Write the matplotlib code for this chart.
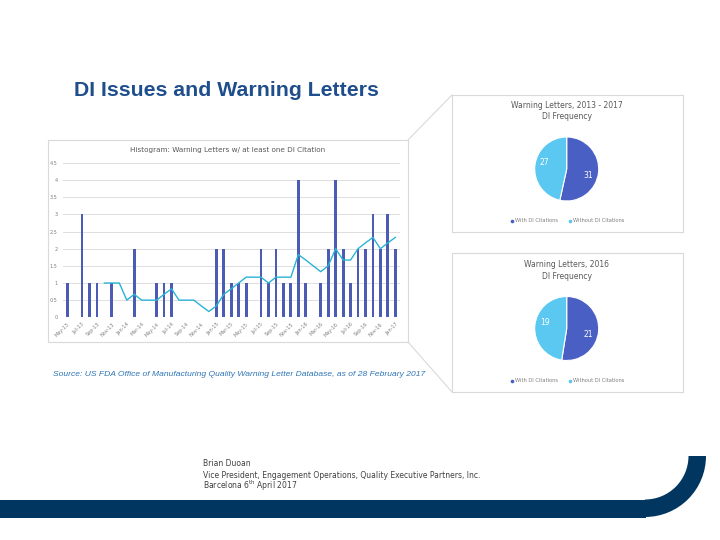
import numpy as np
import matplotlib
matplotlib.use("Agg")
import matplotlib.pyplot as plt
from matplotlib.patches import Rectangle, Wedge

# monthly warning letters with at least one DI citation, May 13 .. Jan 17
letters = [1, 0, 3, 1, 1, 0, 1, 0, 0, 2, 0, 0, 1, 1, 1, 0, 0, 0, 0, 0,
           2, 2, 1, 1, 1, 0, 2, 1, 2, 1, 1, 4, 1, 0, 1, 2, 4, 2, 1, 2,
           2, 3, 2, 3, 2]
# trend line as drawn in the chart (starts at the 6th month)
trend = [np.nan, np.nan, np.nan, np.nan, np.nan, 1.0, 1.0, 1.0, 0.5, 0.67,
         0.5, 0.5, 0.5, 0.67, 0.83, 0.5, 0.5, 0.5, 0.33, 0.17,
         0.33, 0.67, 0.83, 1.0, 1.17, 1.17, 1.17, 1.0, 1.17, 1.17,
         1.17, 1.83, 1.67, 1.5, 1.33, 1.5, 2.0, 1.67, 1.67, 2.0,
         2.17, 2.33, 2.0, 2.17, 2.33]
tick_labels = ["May-13", "Jul-13", "Sep-13", "Nov-13", "Jan-14", "Mar-14",
               "May-14", "Jul-14", "Sep-14", "Nov-14", "Jan-15", "Mar-15",
               "May-15", "Jul-15", "Sep-15", "Nov-15", "Jan-16", "Mar-16",
               "May-16", "Jul-16", "Sep-16", "Nov-16", "Jan-17"]
y_ticks = [0, 0.5, 1, 1.5, 2, 2.5, 3, 3.5, 4, 4.5]

pie_names = ["With DI Citations", "Without DI Citations"]
pie_all = [31, 27]
pie_2016 = [21, 19]

W, H = 720, 540
DARK = "#4a5fc4"
LIGHT = "#5bc8f2"
BAR = "#4c5cb5"
LINE = "#2ab3d6"
GREY = "#d9d9d9"

fig = plt.figure(figsize=(7.2, 5.4), dpi=100)

# background layer in pixel coordinates
bg = fig.add_axes([0, 0, 1, 1])
bg.set_xlim(0, W)
bg.set_ylim(H, 0)
bg.axis("off")

bg.text(74, 91, "DI Issues and Warning Letters", fontsize=15.3, fontweight="bold",
        family="Liberation Sans", color="#1f4e8c", va="center", ha="left")

# panel frames
bg.add_patch(Rectangle((48, 140), 360, 202, fill=False, ec=GREY, lw=0.8))
bg.add_patch(Rectangle((452, 95), 231, 137, fill=False, ec=GREY, lw=0.8))
bg.add_patch(Rectangle((452, 253), 231, 139, fill=False, ec=GREY, lw=0.8))
bg.plot([408, 452], [140, 95], color=GREY, lw=0.8)
bg.plot([408, 452], [342, 392], color=GREY, lw=0.8)

bg.text(228, 150, "Histogram: Warning Letters w/ at least one DI Citation",
        fontsize=5.2, color="#595959", ha="center", va="center")

bg.text(53, 375, "Source: US FDA Office of Manufacturing Quality Warning Letter "
        "Database, as of 28 February 2017", fontsize=6.1, style="italic",
        family="Liberation Sans", color="#2e75b6", ha="left", va="center")

# footer
foot = dict(fontsize=5.5, color="#404040", va="center")
bg.text(203, 464, "Brian Duoan", **foot)
bg.text(203, 475, "Vice President, Engagement Operations, Quality Executive Partners, Inc.", **foot)
bg.text(203, 486, r"Barcelona 6$^{\rm th}$ April 2017", **foot)

bg.add_patch(Rectangle((0, 500), 646, 17.5, color="#003660", lw=0))
bg.add_patch(Wedge((645, 456), 61, 0, 90, width=17.5, color="#003660", lw=0))

# histogram
ax = fig.add_axes([63 / W, 1 - 317.3 / H, (400 - 63) / W, (317.3 - 163) / H])
x = np.arange(len(letters))
ax.bar(x, letters, width=0.38, color=BAR, zorder=3)
ax.plot(x, trend, color=LINE, lw=1, zorder=4)
ax.set_xlim(-0.55, 44.63)
ax.set_ylim(0, 4.5)
ax.set_yticks(y_ticks)
ax.set_yticklabels([f"{v:g}" for v in y_ticks])
ax.set_xticks(x[::2])
ax.set_xticklabels(tick_labels, rotation=45, ha="right", rotation_mode="anchor")
ax.tick_params(axis="both", length=0, labelsize=3.5, labelcolor="#7f7f7f")
ax.tick_params(axis="y", pad=4)
ax.tick_params(axis="x", pad=3)
ax.grid(axis="y", color=GREY, lw=0.6, zorder=0)
for s in ax.spines.values():
    s.set_visible(False)


def draw_pie(cy, values, title):
    cx, r = 566.7, 32
    pax = fig.add_axes([(cx - r) / W, 1 - (cy + r) / H, 2 * r / W, 2 * r / H])
    pax.pie(values, colors=[DARK, LIGHT], startangle=90,
            counterclock=False, radius=1,
            wedgeprops=dict(edgecolor="white", linewidth=0.8))
    pax.set_xlim(-1, 1)
    pax.set_ylim(-1, 1)
    pax.set_aspect("equal")
    pax.axis("off")
    # value labels
    pax.text(0.68, -0.2, str(values[0]), fontsize=5.5, color="white",
             ha="center", va="center")
    pax.text(-0.69, 0.19, str(values[1]), fontsize=5.5, color="white",
             ha="center", va="center")
    bg.text(cx, cy - 58, title, fontsize=5.5, color="#595959", ha="center",
            va="center", linespacing=1.4)
    ly = cy + 52
    bg.plot(512, ly, "o", ms=1.6, color=DARK)
    bg.text(515, ly, pie_names[0], fontsize=3.7, color="#7f7f7f", va="center")
    bg.plot(570, ly, "o", ms=1.6, color=LIGHT)
    bg.text(573, ly, pie_names[1], fontsize=3.7, color="#7f7f7f", va="center")


draw_pie(169, pie_all, "Warning Letters, 2013 - 2017\nDI Frequency")
draw_pie(328.5, pie_2016, "Warning Letters, 2016\nDI Frequency")

fig.savefig("out.png", dpi=100)
